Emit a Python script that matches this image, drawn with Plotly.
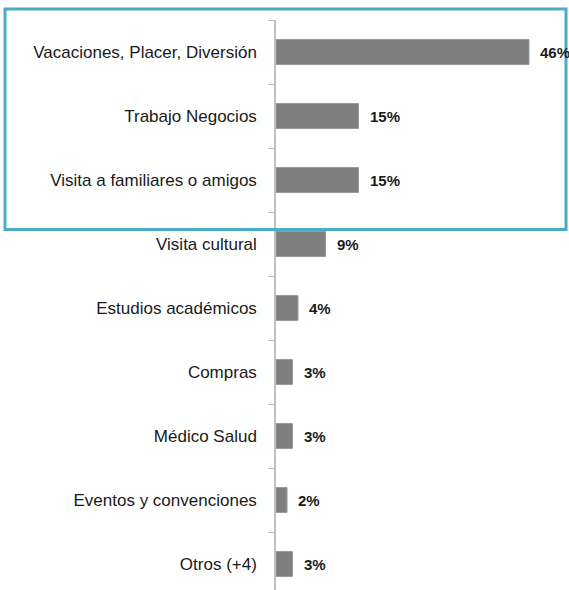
import plotly.graph_objects as go

categories = ["Vacaciones, Placer, Diversión", "Trabajo Negocios", "Visita a familiares o amigos",
              "Visita cultural", "Estudios académicos", "Compras", "Médico Salud",
              "Eventos y convenciones", "Otros (+4)"]
values = [46, 15, 15, 9, 4, 3, 3, 2, 3]
value_labels = ["46%", "15%", "15%", "9%", "4%", "3%", "3%", "2%", "3%"]

W, H = 569, 590
ML, MT = 276, 20
plot_w = W - ML
plot_h = H - MT
px_per_pct = 5.5
px_per_cat = 64.0

fig = go.Figure()
fig.add_trace(go.Bar(
    x=values, y=categories, orientation="h",
    marker=dict(color="#7f7f7f", line=dict(color="#9a9a9a", width=1)),
    hoverinfo="skip",
))

for v, c, t in zip(values, categories, value_labels):
    fig.add_annotation(x=v, y=c, text=t, showarrow=False, xanchor="left", yanchor="middle",
                       xshift=9, font=dict(family="Liberation Sans, sans-serif",
                                           size=15, color="#1a1a1a", weight="bold"))

fig.add_shape(type="rect", xref="paper", yref="paper",
              x0=(5 - ML) / plot_w, x1=(566 - ML) / plot_w,
              y0=(H - 229.5) / plot_h, y1=1 + (MT - 9) / plot_h,
              line=dict(color="#4bacc6", width=3), fillcolor="rgba(0,0,0,0)", layer="above")

fig.update_layout(
    width=W, height=H,
    margin=dict(l=ML, r=0, t=MT, b=0, pad=0),
    paper_bgcolor="white", plot_bgcolor="white",
    bargap=0.61, showlegend=False,
    font=dict(family="Liberation Sans, sans-serif", size=16, color="#1a1a1a"),
    xaxis=dict(range=[0, plot_w / px_per_pct], visible=False, fixedrange=True),
    yaxis=dict(type="category", categoryorder="array", categoryarray=categories,
               range=[-0.5 + plot_h / px_per_cat, -0.5],
               showline=True, linecolor="#bfbfbf", linewidth=1.5,
               ticks="outside", ticklen=6, tickcolor="#bfbfbf", tickwidth=1,
               tickson="boundaries", showgrid=False, zeroline=False,
               ticklabelstandoff=14, fixedrange=True,
               tickfont=dict(size=17)),
)

fig.write_html("out.html", config={"displayModeBar": False},
               post_script="document.body.style.margin='0';document.body.style.overflow='hidden';")
